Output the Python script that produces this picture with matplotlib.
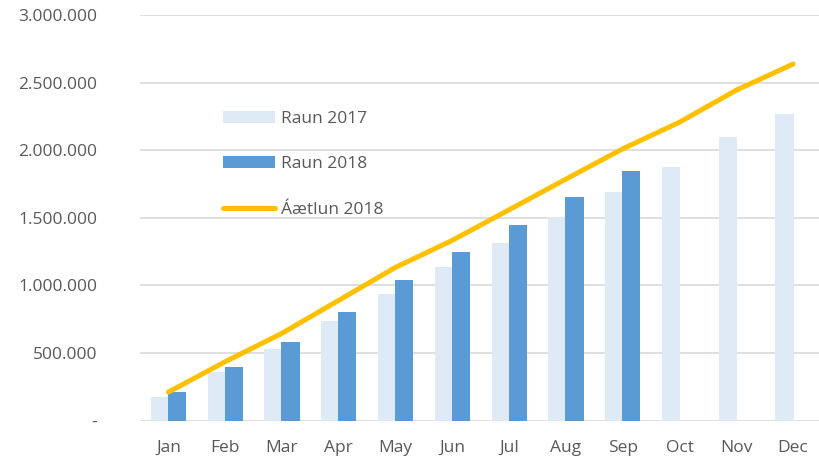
import matplotlib
matplotlib.use("Agg")
import matplotlib.pyplot as plt
import numpy as np
from matplotlib.ticker import FuncFormatter

months = ["Jan", "Feb", "Mar", "Apr", "May", "Jun", "Jul", "Aug", "Sep", "Oct", "Nov", "Dec"]
raun_2017 = [176000, 361000, 529000, 738000, 936000, 1133000, 1313000, 1503000, 1692000, 1875000, 2096000, 2267000]
raun_2018 = [213000, 393000, 583000, 800000, 1037000, 1246000, 1446000, 1653000, 1845000, None, None, None]
aaetlun_2018 = [210000, 435000, 645000, 889000, 1133000, 1333000, 1559000, 1786000, 2010000, 2207000, 2444000, 2637000]
yticks = [0, 500000, 1000000, 1500000, 2000000, 2500000, 3000000]

plt.rcParams['font.family'] = ['Open Sans', 'DejaVu Sans']

W, H = 819, 461
fig = plt.figure(figsize=(W/100, H/100), dpi=100)
left, right = 140, 821.5
top, bottom = 15, 420.5
ax = fig.add_axes([left/W, 1-bottom/H, (right-left)/W, (bottom-top)/H])

x = np.arange(len(months))
bw = 0.32
off = 0.15
b17 = ax.bar(x - off, raun_2017, width=bw, color="#DEEBF7", label="Raun 2017", zorder=2)
x18 = [xi for xi, v in zip(x, raun_2018) if v is not None]
v18 = [v for v in raun_2018 if v is not None]
b18 = ax.bar(np.array(x18) + off, v18, width=bw, color="#5B9BD5", label="Raun 2018", zorder=3)
ln, = ax.plot(x, aaetlun_2018, color="#FFC000", lw=3.6, solid_capstyle='round', label="Áætlun 2018", zorder=4)

ax.set_xlim(-0.5, 11.5)
ax.set_ylim(0, 3000000)
ax.set_yticks(yticks)
ax.yaxis.set_major_formatter(FuncFormatter(lambda v, p: "-" if v == 0 else f"{int(v):,}".replace(",", ".")))
ax.set_xticks(x)
ax.set_xticklabels(months)
ax.grid(axis='y', color="#D9D9D9", lw=1.2, zorder=0)
ax.set_axisbelow(True)
for s in ax.spines.values():
    s.set_visible(False)
ax.tick_params(axis='y', length=0, pad=31, labelsize=12.5, labelcolor="#595959")
ax.tick_params(axis='x', length=0, pad=14, labelsize=12.5, labelcolor="#595959")

leg = ax.legend([b17, b18, ln], ["Raun 2017", "Raun 2018", "Áætlun 2018"],
                loc='upper left', bbox_to_anchor=(223/W, 1-111/H), bbox_transform=fig.transFigure,
                frameon=False, fontsize=12.5, handlelength=3.0, handleheight=0.7,
                labelspacing=1.68, handletextpad=0.35, borderpad=0, borderaxespad=0)
for t in leg.get_texts():
    t.set_color("#595959")

fig.savefig("out.png", dpi=100)
